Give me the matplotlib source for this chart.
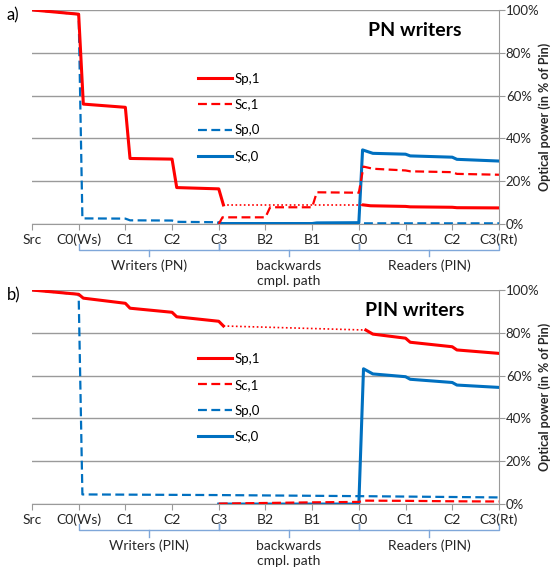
import matplotlib.pyplot as plt
from matplotlib.ticker import PercentFormatter
import matplotlib.transforms as mtransforms

plt.rcParams["font.family"] = ["Lato", "DejaVu Sans"]

# categories along the path
categories = ["Src", "C0(Ws)", "C1", "C2", "C3", "B2", "B1", "C0", "C1", "C2", "C3(Rt)"]
groups_a = [("Writers (PN)", 1, 4), ("backwards\ncmpl. path", 4, 7), ("Readers (PIN)", 7, 10)]
groups_b = [("Writers (PIN)", 1, 4), ("backwards\ncmpl. path", 4, 7), ("Readers (PIN)", 7, 10)]

# ---- panel a) PN writers (positions in category units, values in %)
a_sp1_x = [0, 1, 1.1, 2, 2.1, 3, 3.1, 4, 4.1]
a_sp1_y = [100, 98, 56, 54.5, 30.6, 30.3, 17, 16.4, 8.9]
a_sp1_dot_x = [4.1, 7.1]
a_sp1_dot_y = [8.9, 8.9]
a_sp1_r_x = [7.1, 7.25, 8, 8.1, 9, 9.1, 10]
a_sp1_r_y = [8.9, 8.5, 8.2, 8.0, 7.8, 7.6, 7.5]

a_sc1_x = [4, 4.08, 5, 5.1, 6, 6.1, 7, 7.1, 7.3, 8, 8.1, 9, 9.1, 10]
a_sc1_y = [0, 3.1, 3.1, 7.8, 7.8, 14.8, 14.6, 26.8, 25.8, 25.0, 24.6, 24.2, 23.4, 23.0]

a_sp0_x = [0, 1, 1.08, 2, 2.1, 3, 3.1, 4, 4.1, 10]
a_sp0_y = [100, 98, 2.6, 2.5, 1.7, 1.6, 1.0, 0.8, 0.3, 0.3]

a_sc0_x = [4, 6, 6.1, 7, 7.08, 7.3, 8, 8.1, 9, 9.1, 10]
a_sc0_y = [0.2, 0.2, 0.5, 0.6, 34.6, 33.0, 32.6, 31.8, 31.2, 30.2, 29.4]

# ---- panel b) PIN writers
b_sp1_x = [0, 1, 1.1, 2, 2.1, 3, 3.1, 4, 4.1]
b_sp1_y = [100, 98, 96.2, 93.8, 91.5, 89.6, 87.5, 85.4, 83.2]
b_sp1_dot_x = [4.1, 7.15]
b_sp1_dot_y = [83.2, 81.3]
b_sp1_r_x = [7.15, 7.3, 8, 8.1, 9, 9.1, 10]
b_sp1_r_y = [81.3, 79.4, 77.5, 75.6, 73.5, 72.0, 70.4]

b_sc1_x = [4, 5, 6, 7, 7.1, 8, 9, 10]
b_sc1_y = [0.2, 0.5, 0.8, 1.0, 1.6, 1.5, 1.3, 1.2]

b_sp0_x = [0, 1, 1.08, 4, 7, 10]
b_sp0_y = [100, 98, 4.5, 4.2, 3.7, 3.1]

b_sc0_x = [4, 7, 7.1, 7.3, 8, 8.1, 9, 9.1, 10]
b_sc0_y = [0, 0, 63.2, 60.8, 59.5, 58.3, 56.8, 55.6, 54.5]

RED = "#FF0000"
BLUE = "#0070C0"
GRID = "#9a9a9a"
BRACKET = "#7FA7D9"
TXT = "#262626"


def draw_panel(ax, d, title, tag, groups):
    # main series
    ax.plot(d["sp1"][0], d["sp1"][1], color=RED, lw=2.2, label="Sp,1", zorder=4)
    ax.plot(d["sc1"][0], d["sc1"][1], color=RED, lw=1.6, ls=(0, (4, 2)), label="Sc,1", zorder=4)
    ax.plot(d["sp0"][0], d["sp0"][1], color=BLUE, lw=1.6, ls=(0, (4, 2)), label="Sp,0", zorder=3)
    ax.plot(d["sc0"][0], d["sc0"][1], color=BLUE, lw=2.2, label="Sc,0", zorder=3)
    # Sp,1 through the backwards path (dotted) and at the readers
    ax.plot(d["dot"][0], d["dot"][1], color=RED, lw=1.2, ls=(0, (1, 1.5)), zorder=4)
    ax.plot(d["rd"][0], d["rd"][1], color=RED, lw=2.2, zorder=4)

    ax.set_xlim(0, 10)
    ax.set_ylim(0, 100)
    ax.set_xticks(range(len(categories)))
    ax.set_xticklabels(categories, fontsize=10, color=TXT)
    ax.set_yticks(range(0, 101, 20))
    ax.yaxis.set_major_formatter(PercentFormatter(decimals=0))
    ax.yaxis.tick_right()
    ax.tick_params(axis="y", labelsize=9.5, colors=GRID, labelcolor=TXT, length=4, pad=1)
    ax.tick_params(axis="x", colors=GRID, labelcolor=TXT, length=4, pad=3)
    ax.yaxis.set_label_position("right")
    ax.set_ylabel("Optical power (in % of Pin)", fontsize=9, fontweight="bold",
                  color=TXT, rotation=90, va="center", ha="center")
    ax.yaxis.set_label_coords(1.098, 0.5)
    ax.grid(axis="y", color=GRID, lw=1)
    ax.set_axisbelow(True)
    for s in ["top", "left"]:
        ax.spines[s].set_visible(False)
    for s in ["right", "bottom"]:
        ax.spines[s].set_color(GRID)

    ax.text(0.82, 0.905, title, transform=ax.transAxes, ha="center", va="center",
            fontsize=14, fontweight="bold", color="black")
    ax.text(-0.04, 0.975, tag, transform=ax.transAxes, ha="center", va="center",
            fontsize=12, color="black")

    ax.legend(loc="upper left", bbox_to_anchor=(0.33, 0.762), frameon=False,
              fontsize=9.5, handlelength=2.6, handletextpad=0.2, labelspacing=1.05)

    # group brackets under the category labels
    trans = mtransforms.blended_transform_factory(ax.transData, ax.transAxes)
    yb = -0.122
    for label, x0, x1 in groups:
        ax.plot([x0, x0, x1, x1], [yb + 0.03, yb, yb, yb + 0.03], color=BRACKET,
                lw=1, transform=trans, clip_on=False)
        xm = (x0 + x1) / 2
        ax.plot([xm, xm], [yb, yb - 0.03], color=BRACKET, lw=1, transform=trans,
                clip_on=False)
        ax.text(xm, yb - 0.045, label, transform=trans, ha="center", va="top",
                fontsize=10, color=TXT, linespacing=1.3)


fig = plt.figure(figsize=(5.51, 5.67), dpi=100)
ax_a = fig.add_axes([0.058, 0.605, 0.8475, 0.3775])
ax_b = fig.add_axes([0.058, 0.111, 0.8475, 0.3775])

draw_panel(ax_a, {"sp1": (a_sp1_x, a_sp1_y), "sc1": (a_sc1_x, a_sc1_y),
                  "sp0": (a_sp0_x, a_sp0_y), "sc0": (a_sc0_x, a_sc0_y),
                  "dot": (a_sp1_dot_x, a_sp1_dot_y), "rd": (a_sp1_r_x, a_sp1_r_y)},
           "PN writers", "a)", groups_a)
draw_panel(ax_b, {"sp1": (b_sp1_x, b_sp1_y), "sc1": (b_sc1_x, b_sc1_y),
                  "sp0": (b_sp0_x, b_sp0_y), "sc0": (b_sc0_x, b_sc0_y),
                  "dot": (b_sp1_dot_x, b_sp1_dot_y), "rd": (b_sp1_r_x, b_sp1_r_y)},
           "PIN writers", "b)", groups_b)

fig.savefig("out.png", dpi=100)
